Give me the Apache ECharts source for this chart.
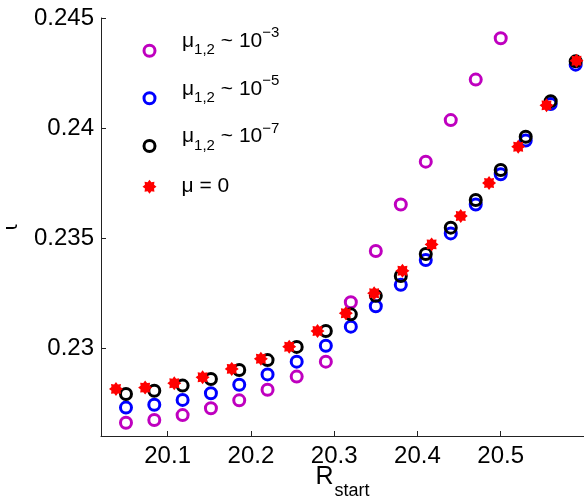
<!DOCTYPE html>
<html>
<head>
<meta charset="utf-8">
<script src="https://cdn.jsdelivr.net/npm/echarts@6/dist/echarts.min.js"></script>
<style>html,body{margin:0;padding:0;background:#fff;}#c{width:584px;height:498px;}</style>
</head>
<body>
<div id="c"></div>
<script>
// Circles x positions (mu ~ 1e-5, 1e-7)
const xCircles = [20.05, 20.084, 20.118, 20.152, 20.186, 20.22, 20.255, 20.29, 20.32, 20.35, 20.38, 20.41, 20.44, 20.47, 20.50, 20.53, 20.56, 20.59];
// mu ~ 1e-3 x positions
const xMag = [20.05, 20.084, 20.118, 20.152, 20.186, 20.22, 20.255, 20.29, 20.32, 20.35, 20.38, 20.41, 20.44, 20.47, 20.50];
const yMag = [0.22660, 0.22673, 0.22695, 0.22726, 0.22762, 0.22810, 0.22870, 0.22938, 0.23208, 0.23441, 0.23652, 0.23847, 0.24036, 0.24220, 0.24408];
const yBlue = [0.22729, 0.22742, 0.22764, 0.22794, 0.22833, 0.22880, 0.22938, 0.23010, 0.23097, 0.23190, 0.23287, 0.23400, 0.23521, 0.23652, 0.23790, 0.23943, 0.24109, 0.24288];
const yBlack = [0.22791, 0.22806, 0.22829, 0.22859, 0.22900, 0.22945, 0.23005, 0.23077, 0.23153, 0.23237, 0.23327, 0.23427, 0.23547, 0.23673, 0.23809, 0.23960, 0.24122, 0.24303];
// mu = 0
const xRed = [20.038, 20.073, 20.108, 20.142, 20.177, 20.212, 20.246, 20.280, 20.314, 20.348, 20.382, 20.417, 20.452, 20.486, 20.521, 20.555, 20.591];
const yRed = [0.22814, 0.22820, 0.22840, 0.22867, 0.22905, 0.22951, 0.23006, 0.23077, 0.23158, 0.23249, 0.23351, 0.23471, 0.23600, 0.23750, 0.23915, 0.24103, 0.24306];

const xTicks = [20.1, 20.2, 20.3, 20.4, 20.5];
const yTicks = [0.23, 0.235, 0.24, 0.245];
const yTickLabels = ['0.23', '0.235', '0.24', '0.245'];

const names = ['m3', 'm5', 'm7', 'm0'];
const supTexts = {m3: '\u22123', m5: '\u22125', m7: '\u22127'};

const FONT = 'Liberation Sans, Arial, Helvetica, sans-serif';
const star = 'path://M20,10L16.47,12.68L17.07,17.07L12.68,16.47L10,20L7.32,16.47L2.93,17.07L3.53,12.68L0,10L3.53,7.32L2.93,2.93L7.32,3.53L10,0L12.68,3.53L17.07,2.93L16.47,7.32Z';

function pairs(xs, ys) { return xs.map((x, i) => [x, ys[i]]); }

const chart = echarts.init(document.getElementById('c'), null, {renderer: 'canvas'});

const richLegend = {
  sp: {width: 22, fontSize: 21, verticalAlign: 'top', fontFamily: FONT},
  m: {fontSize: 21, verticalAlign: 'top', padding: [5, 0, 0, 0], lineHeight: 50, color: '#000', fontFamily: FONT},
  sup: {fontSize: 15, verticalAlign: 'top', padding: [0, 0, 0, 0], color: '#000', fontFamily: FONT},
  sub: {fontSize: 15, verticalAlign: 'top', padding: [17, 0, 0, 0], color: '#000', fontFamily: FONT},
  p: {fontSize: 21, lineHeight: 21, color: '#000', fontFamily: FONT},
  sp2: {width: 20, fontSize: 21, fontFamily: FONT}
};

function legendFmt(name) {
  if (name === 'm0') return '{sp2| }{p|\u03bc = 0}';
  return '{sp| }{m|\u03bc}{sub|1,2}{m| ~ 10}{sup|' + supTexts[name] + '}';
}

const legendTops = [25.7, 73.3, 121, 176.2];
const legendStyles = [
  {color: 'rgba(0,0,0,0)', borderColor: '#BF00BF', borderWidth: 3, opacity: 1},
  {color: 'rgba(0,0,0,0)', borderColor: '#0000FF', borderWidth: 3, opacity: 1},
  {color: 'rgba(0,0,0,0)', borderColor: '#000000', borderWidth: 3, opacity: 1},
  {color: '#FF0000', borderWidth: 0, opacity: 1}
];
const legends = names.map((n, i) => ({
  data: [n],
  orient: 'vertical',
  left: 142.5,
  top: legendTops[i],
  padding: 0,
  itemWidth: i === 3 ? 14 : 11,
  itemHeight: i === 3 ? 14 : 11,
  selectedMode: false,
  formatter: legendFmt,
  itemStyle: legendStyles[i],
  textStyle: {rich: richLegend, fontFamily: FONT}
}));

const option = {
  animation: false,
  backgroundColor: '#fff',
  grid: {left: 101, right: 0, top: 18, bottom: 62, containLabel: false, outerBoundsMode: 'none'},
  legend: legends,
  xAxis: {
    type: 'value', min: 20.02, max: 20.6,
    name: '{r|R}{s|start}',
    nameLocation: 'middle', nameGap: 29, nameMoveOverlap: false,
    nameTextStyle: {
      rich: {
        r: {fontSize: 25, verticalAlign: 'top', color: '#000', fontFamily: FONT},
        s: {fontSize: 18, verticalAlign: 'top', padding: [17, 0, 0, 1], color: '#000', fontFamily: FONT}
      }
    },
    axisLine: {show: true, onZero: false, lineStyle: {color: '#222', width: 1}},
    axisTick: {show: true, inside: true, length: 5, customValues: xTicks, lineStyle: {color: '#222'}},
    axisLabel: {customValues: xTicks, margin: 8, fontSize: 24, color: '#000', fontFamily: FONT,
      formatter: v => v.toFixed(1)},
    splitLine: {show: false}
  },
  yAxis: {
    type: 'value', min: 0.226, max: 0.245,
    name: '\u03b9', nameLocation: 'middle', nameGap: 79, nameRotate: 90, nameMoveOverlap: false,
    nameTextStyle: {fontSize: 20, color: '#000', fontFamily: 'DejaVu Sans, sans-serif'},
    axisLine: {show: true, onZero: false, lineStyle: {color: '#222', width: 1}},
    axisTick: {show: true, inside: true, length: 5, customValues: yTicks, lineStyle: {color: '#222'}},
    axisLabel: {customValues: yTicks, margin: 7, fontSize: 24, color: '#000', fontFamily: FONT,
      formatter: v => { const i = yTicks.findIndex(t => Math.abs(t - v) < 1e-9); return i >= 0 ? yTickLabels[i] : ''; }},
    splitLine: {show: false}
  },
  series: [
    {name: 'm3', type: 'scatter', data: pairs(xMag, yMag), symbol: 'circle', symbolSize: 11,
      itemStyle: {color: 'rgba(0,0,0,0)', borderColor: '#BF00BF', borderWidth: 3, opacity: 1}},
    {name: 'm5', type: 'scatter', data: pairs(xCircles, yBlue), symbol: 'circle', symbolSize: 11,
      itemStyle: {color: 'rgba(0,0,0,0)', borderColor: '#0000FF', borderWidth: 3, opacity: 1}},
    {name: 'm7', type: 'scatter', data: pairs(xCircles, yBlack), symbol: 'circle', symbolSize: 11,
      itemStyle: {color: 'rgba(0,0,0,0)', borderColor: '#000000', borderWidth: 3, opacity: 1}},
    {name: 'm0', type: 'scatter', data: pairs(xRed, yRed), symbol: star, symbolSize: 14,
      itemStyle: {color: '#FF0000', opacity: 1}}
  ]
};
chart.setOption(option);
</script>
</body>
</html>
